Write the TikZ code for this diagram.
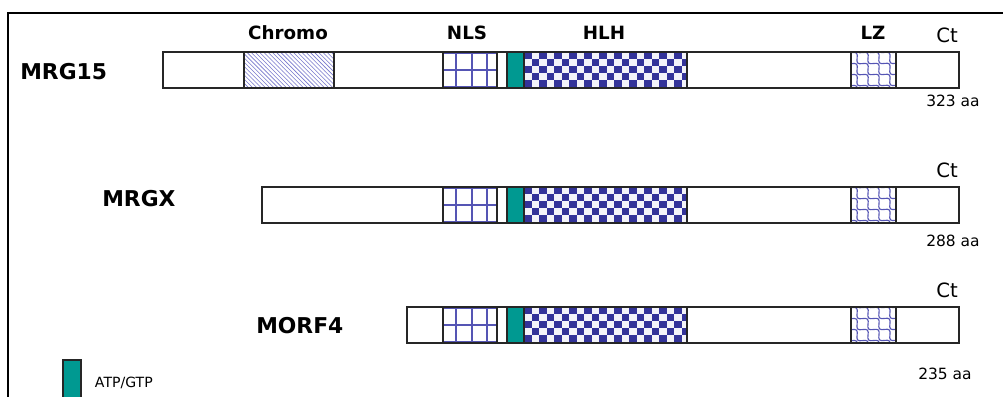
\documentclass[tikz,border=0pt]{standalone}
\usepackage{fontspec}
\setmainfont{DejaVu Sans}
\usepackage{tikz}
\usetikzlibrary{patterns,decorations.pathmorphing}

\definecolor{atpteal}{RGB}{0,153,145}
\definecolor{hlhblue}{RGB}{51,51,153}
\definecolor{gridblue}{RGB}{85,85,180}
\definecolor{hatchblue}{RGB}{120,120,205}

\tikzset{
  protname/.style={anchor=west, inner sep=0pt, font=\fontsize{15.5}{16}\selectfont\bfseries},
  domname/.style={font=\fontsize{13}{13}\selectfont\bfseries},
  ctname/.style={font=\fontsize{14}{14}\selectfont},
  lenname/.style={font=\fontsize{11}{11}\selectfont},
  bar/.style={draw=black!85, line width=0.8pt},
}

\begin{document}
\begin{tikzpicture}[x=0.025cm, y=-0.025cm]
            \useasboundingbox (0,0) rectangle (1003,396);
            \draw[line width=1.6pt] (8,400) -- (8,13) -- (1003,13);

            % domain names over the top bar
            \node[domname] (chromo) at (288,33) {Chromo};
            \node[domname] (nls) at (467,33) {NLS};
            \node[domname] (hlh) at (604,33) {HLH};
            \node[domname] (lz) at (873,33) {LZ};

            % one bar per protein: top y / start x / name / label x / label y / length / length x / length y
            \foreach \y/\xs/\n/\lx/\ly/\len/\nx/\ny in {52/163/MRG15/20/72/323/953/101,
                                                     187/262/MRGX/102/199/288/953/241,
                                                     307/407/MORF4/256/326/235/945/374}{
              \node[protname] (name\n) at (\lx,\ly) {\n};
              \node[ctname] (ct\n) at (947,\y-17) {Ct};
              \node[lenname] (len\n) at (\nx,\ny) {\len{} aa};
              \draw[bar, fill=white] (\xs,\y) rectangle (959,\y+36);

              % NLS grid
              \foreach \gx in {456,472,487}
                \draw[gridblue, line width=1.1pt] (\gx,\y) -- (\gx,\y+36);
              \foreach \gy in {1,18,35}
                \draw[gridblue, line width=1.1pt] (443,\y+\gy) -- (497,\y+\gy);
              \draw[bar] (443,\y) rectangle (497,\y+36);

              % HLH checkerboard
              \begin{scope}
                \clip (524,\y) rectangle (687,\y+36);
                \fill[hlhblue!6] (524,\y) rectangle (687,\y+36);
                \foreach \i in {0,...,21}{
                  \foreach \j in {0,...,5}{
                    \pgfmathtruncatemacro\odd{mod(\i+\j,2)}
                    \ifnum\odd=0
                      \fill[hlhblue] (524+\i*7.5,\y+\j*6.9) rectangle ++(7.5,6.9);
                    \fi
                  }
                }
              \end{scope}
              \draw[bar] (524,\y) rectangle (687,\y+36);

              % LZ scales
              \begin{scope}
                \clip (851,\y) rectangle (896,\y+36);
                \foreach \c in {-66,-55,...,44}
                  \draw[gridblue, line width=0.8pt, decorate,
                        decoration={snake, amplitude=2.2pt, segment length=11pt}]
                    (840,\y+\c) -- (904,\y+\c+64);
              \end{scope}
              \draw[bar] (851,\y) rectangle (896,\y+36);

              % ATP/GTP box
              \draw[bar, fill=atpteal] (507,\y) rectangle (524,\y+36);
            }

            % chromo domain, MRG15 only
            \draw[bar, pattern=north west lines, pattern color=hatchblue] (244,52) rectangle (334,88);

            % legend
            \draw[bar, fill=atpteal] (63,360) rectangle (81,402);
            \node[lenname, anchor=west, font=\fontsize{10}{10}\selectfont] (atpgtp) at (90,383) {ATP/GTP};
\end{tikzpicture}
\end{document}
